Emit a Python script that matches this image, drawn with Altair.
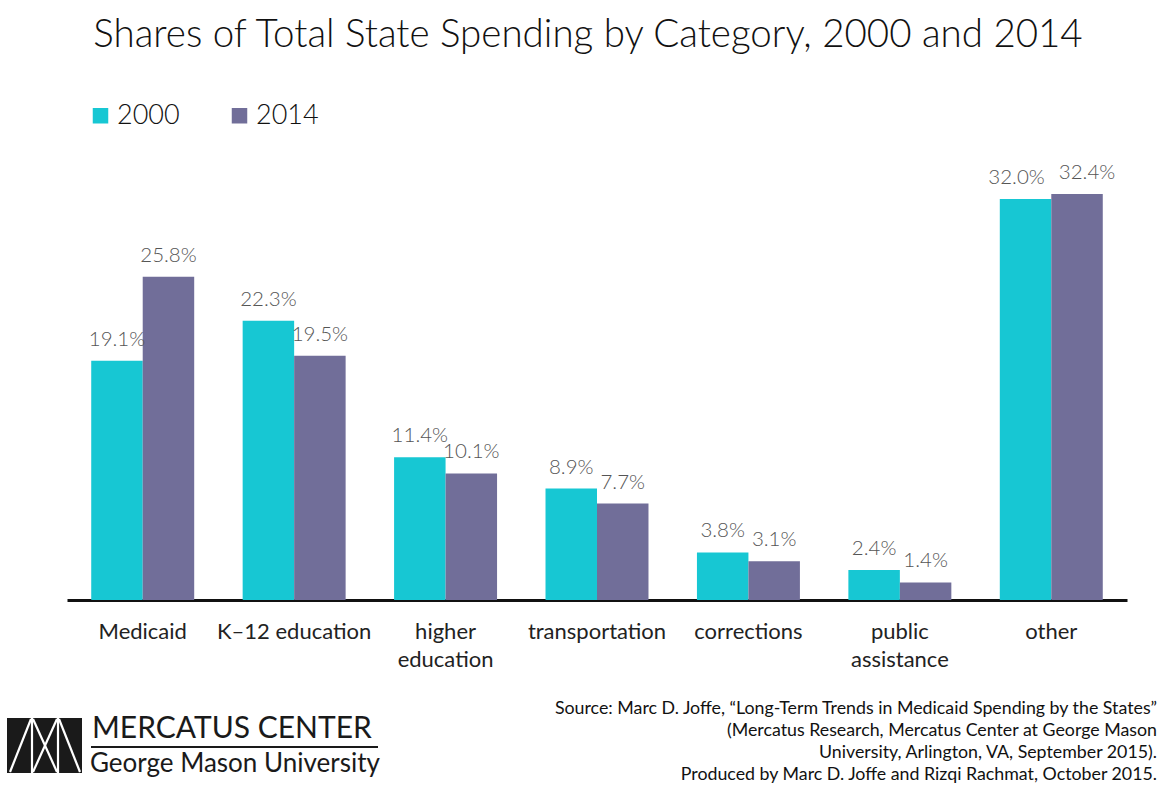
import altair as alt
import pandas as pd

categories = ["Medicaid", "K–12 education", "higher\neducation", "transportation",
              "corrections", "public\nassistance", "other"]
years = ["2000", "2014"]
v2000 = [19.1, 22.3, 11.4, 8.9, 3.8, 2.4, 32.0]
v2014 = [25.8, 19.5, 10.1, 7.7, 3.1, 1.4, 32.4]
colors = ["#17C7D3", "#716E99"]

title_text = "Shares of Total State Spending by Category, 2000 and 2014"
source_lines = [
    "Source: Marc D. Joffe, \u201cLong-Term Trends in Medicaid Spending by the States\u201d",
    "(Mercatus Research, Mercatus Center at George Mason",
    "University, Arlington, VA, September 2015).",
    "Produced by Marc D. Joffe and Rizqi Rachmat, October 2015.",
]

rows = []
for c, a, b in zip(categories, v2000, v2014):
    rows.append({"category": c, "year": "2000", "value": a, "label": f"{a:.1f}%"})
    rows.append({"category": c, "year": "2014", "value": b, "label": f"{b:.1f}%"})
df = pd.DataFrame(rows)

FONT = "Lato"

xenc = alt.X("category:N", sort=categories, title=None,
             scale=alt.Scale(paddingInner=0.32, paddingOuter=0.16),
             axis=alt.Axis(labelExpr="split(datum.label, '\\n')", labelAngle=0,
                           labelFontSize=22, labelColor="#222222", labelFont=FONT,
                           labelPadding=21, labelLineHeight=28, ticks=False,
                           domainColor="#111111", domainWidth=3, labelBaseline="top"))
yenc = alt.Y("value:Q", scale=alt.Scale(domain=[0, 36], nice=False), axis=None)

base = alt.Chart(df)
bars = base.mark_bar().encode(
    x=xenc,
    xOffset=alt.XOffset("year:N", sort=years),
    y=yenc,
    color=alt.Color("year:N", sort=years,
                    scale=alt.Scale(domain=years, range=colors),
                    legend=alt.Legend(title=None, orient="none", legendX=20, legendY=-47,
                                      direction="horizontal", symbolType="square",
                                      symbolSize=240, symbolStrokeWidth=0,
                                      labelFontSize=27, labelFont=FONT, labelFontWeight=300,
                                      labelColor="#111111",
                                      labelOffset=3, columnPadding=46)),
)


def value_labels(filt, dx):
    return base.transform_filter(filt).mark_text(
        baseline="bottom", dy=-11, dx=dx, fontSize=20.5, font=FONT,
        fontWeight=300, color="#555555").encode(
        x=alt.X("category:N", sort=categories),
        xOffset=alt.XOffset("year:N", sort=years),
        y=yenc,
        text="label:N",
    )


labels_main = value_labels("datum.category != 'other'", 0)
labels_o1 = value_labels("datum.category == 'other' && datum.year == '2000'", -9)
labels_o2 = value_labels("datum.category == 'other' && datum.year == '2014'", 10)

one = pd.DataFrame({"a": [0]})
title = alt.Chart(one).mark_text(fontSize=38.5, font=FONT, fontWeight=300, color="#111111",
                                 align="center", baseline="middle").encode(
    x=alt.value(521), y=alt.value(-114), text=alt.value(title_text))

source = alt.Chart(one).mark_text(fontSize=17.8, font=FONT, color="#111111",
                                  align="right", baseline="top", lineBreak="\n",
                                  lineHeight=22).encode(
    x=alt.value(1090), y=alt.value(551),
    text=alt.value("\n".join(source_lines)),
)

# logo
logo_box = alt.Chart(one).mark_rect(color="#1a1a1a").encode(
    x=alt.value(-60), x2=alt.value(15), y=alt.value(569), y2=alt.value(624))
segs = pd.DataFrame({
    "x1": [-35, -9, -57, -34, -10, -8],
    "y1": [569, 569, 623, 570, 570, 570],
    "x2": [-35, -9, -36, -10, -34, 13],
    "y2": [624, 624, 570, 623, 623, 623],
})
logo_lines = alt.Chart(segs).mark_rule(color="white", strokeWidth=2.2).encode(
    x=alt.X("x1:Q", scale=None), x2="x2:Q",
    y=alt.Y("y1:Q", scale=None), y2="y2:Q")
logo_rule = alt.Chart(one).mark_rule(color="#1a1a1a", strokeWidth=2).encode(
    x=alt.value(24), x2=alt.value(311), y=alt.value(598))
logo_t1 = alt.Chart(one).mark_text(fontSize=30, font=FONT, color="#1a1a1a",
                                   align="left", baseline="middle").encode(
    x=alt.value(25), y=alt.value(580), text=alt.value("MERCATUS CENTER"))
logo_t2 = alt.Chart(one).mark_text(fontSize=26, font=FONT, color="#1a1a1a",
                                   align="left", baseline="middle").encode(
    x=alt.value(23), y=alt.value(615), text=alt.value("George Mason University"))

chart = alt.layer(bars, labels_main, labels_o1, labels_o2, title, source, logo_box,
                  logo_lines, logo_rule, logo_t1, logo_t2).properties(
    width=1060, height=451,
    autosize=alt.AutoSizeParams(type="none"),
    padding={"left": 67, "top": 149, "right": 43, "bottom": 187},
    background="white",
).configure_view(stroke=None).configure_axis(grid=False)

chart.save("out.html", embed_options={"renderer": "svg", "actions": False})
